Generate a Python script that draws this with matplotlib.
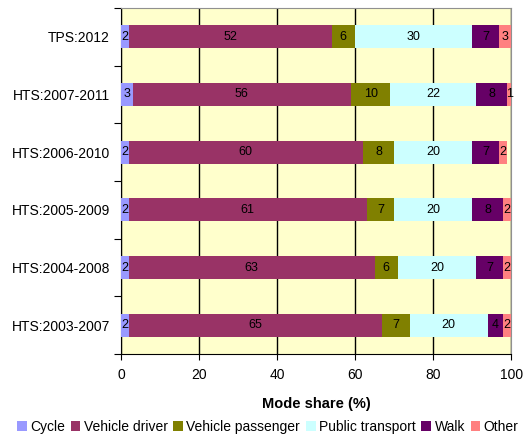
import matplotlib.pyplot as plt
import numpy as np

plt.rcParams['font.family'] = ['Liberation Sans', 'DejaVu Sans']

# Survey periods, bottom to top
surveys = ['HTS:2003-2007', 'HTS:2004-2008', 'HTS:2005-2009',
           'HTS:2006-2010', 'HTS:2007-2011', 'TPS:2012']

modes = ['Cycle', 'Vehicle driver', 'Vehicle passenger',
         'Public transport', 'Walk', 'Other']

cycle = [2, 2, 2, 2, 3, 2]
driver = [65, 63, 61, 60, 56, 52]
passenger = [7, 6, 7, 8, 10, 6]
public_transport = [20, 20, 20, 20, 22, 30]
walk = [4, 7, 8, 7, 8, 7]
other = [2, 2, 2, 2, 1, 3]

series = [cycle, driver, passenger, public_transport, walk, other]
colors = ['#9999FF', '#993366', '#808000', '#CCFFFF', '#660066', '#FF8080']

fig = plt.figure(figsize=(5.25, 4.42), dpi=100)
ax = fig.add_axes([0.2305, 0.199, 0.743, 0.783])
ax.set_facecolor('#FFFFCC')

y = np.arange(len(surveys))
left = np.zeros(len(surveys))
for vals, col, name in zip(series, colors, modes):
    vals = np.array(vals, dtype=float)
    ax.barh(y, vals, left=left, height=0.4, color=col, label=name, zorder=3)
    for yi, l, v in zip(y, left, vals):
        ax.text(l + v / 2, yi, f'{int(v)}', ha='center', va='center',
                fontsize=9, color='black', zorder=4)
    left += vals

ax.set_xlim(0, 100)
ax.set_ylim(-0.5, len(surveys) - 0.5)
ax.set_xticks(range(0, 101, 20))
ax.tick_params(axis='x', labelsize=10, direction='out', length=4, pad=6)

# category labels at centres, tick marks at boundaries
ax.set_yticks(np.arange(-0.5, len(surveys), 1.0))
ax.set_yticklabels([])
ax.tick_params(axis='y', which='major', direction='out', length=5)
ax.set_yticks(y, minor=True)
ax.set_yticklabels(surveys, minor=True, fontsize=10)
ax.tick_params(axis='y', which='minor', length=0, pad=8)

ax.grid(axis='x', color='black', linewidth=1, zorder=1)
ax.spines['top'].set_color('#909090')
ax.spines['right'].set_color('#909090')

ax.set_xlabel('Mode share (%)', fontsize=10.5, fontweight='bold', labelpad=11)

fig.legend(loc='lower center', ncol=6, frameon=False, fontsize=10,
           handlelength=0.7, handleheight=0.7, handletextpad=0.25,
           columnspacing=0.4, bbox_to_anchor=(0.51, -0.01))

fig.savefig('out.png', dpi=100)
